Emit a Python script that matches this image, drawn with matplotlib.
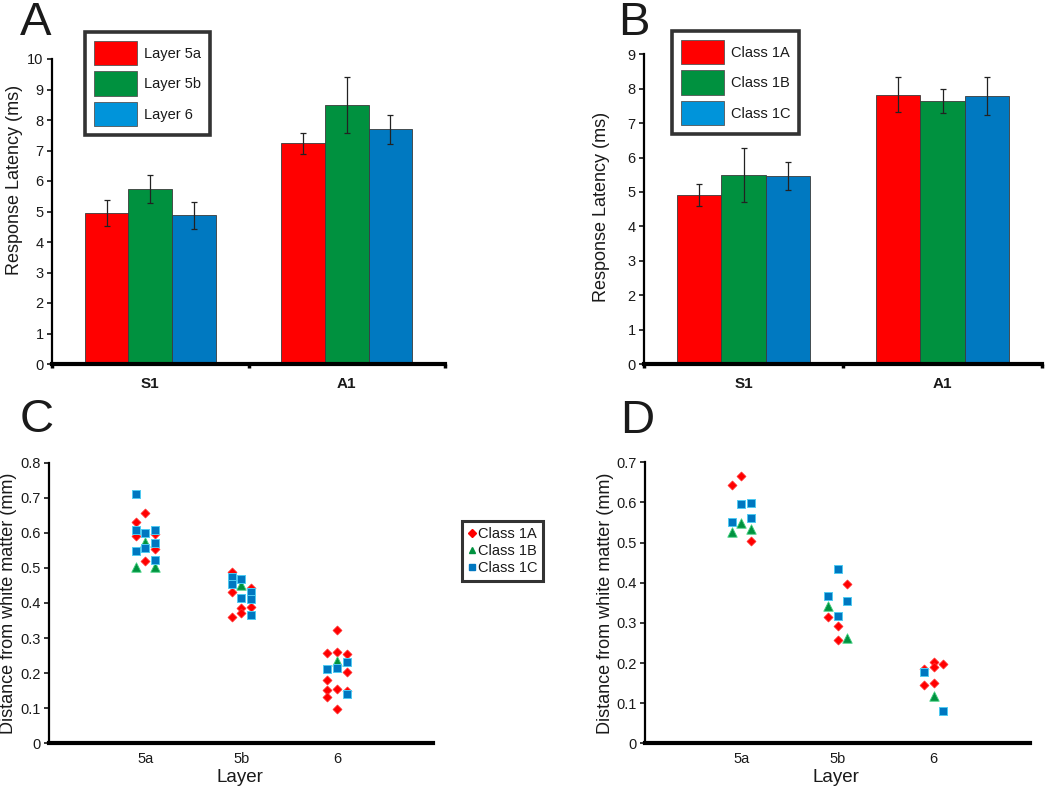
import matplotlib
matplotlib.use('Agg')
import matplotlib.pyplot as plt
from matplotlib.patches import Patch
from matplotlib.lines import Line2D

plt.rcParams['font.family'] = ['Liberation Sans', 'DejaVu Sans']

# ---------------- data ----------------
groups = ['S1', 'A1']

A_labels = ['Layer 5a', 'Layer 5b', 'Layer 6']
A_means = [[4.96, 7.23], [5.74, 8.50], [4.87, 7.69]]
A_err = [[0.43, 0.36], [0.45, 0.91], [0.43, 0.48]]

B_labels = ['Class 1A', 'Class 1B', 'Class 1C']
B_means = [[4.92, 7.83], [5.49, 7.65], [5.47, 7.79]]
B_err = [[0.32, 0.51], [0.78, 0.35], [0.40, 0.55]]

layers = ['5a', '5b', '6']
classes = ['Class 1A', 'Class 1B', 'Class 1C']

# Panel C: layer index (1=5a,2=5b,3=6), column slot (-1,0,1), distance (mm)
C_1A_layer = [1, 1, 1, 1, 1, 1, 2, 2, 2, 2, 2, 2, 2, 3, 3, 3, 3, 3, 3, 3, 3, 3, 3, 3]
C_1A_col = [-1, -1, 0, 0, 1, 1, -1, -1, -1, 0, 0, 1, 1, -1, -1, -1, -1, 0, 0, 0, 0, 1, 1, 1]
C_1A_dist = [0.631, 0.591, 0.656, 0.519, 0.598, 0.553,
             0.488, 0.432, 0.361, 0.385, 0.371, 0.444, 0.390,
             0.257, 0.180, 0.152, 0.133, 0.324, 0.260, 0.156, 0.099, 0.254, 0.204, 0.149]
C_1B_layer = [1, 1, 1, 2, 3]
C_1B_col = [-1, 0, 1, 0, 0]
C_1B_dist = [0.503, 0.575, 0.503, 0.452, 0.236]
C_1C_layer = [1, 1, 1, 1, 1, 1, 1, 1, 2, 2, 2, 2, 2, 2, 2, 3, 3, 3, 3]
C_1C_col = [-1, -1, -1, 0, 0, 1, 1, 1, -1, -1, 0, 0, 1, 1, 1, -1, 0, 1, 1]
C_1C_dist = [0.710, 0.608, 0.548, 0.599, 0.556, 0.608, 0.571, 0.524,
             0.475, 0.455, 0.467, 0.414, 0.432, 0.410, 0.365,
             0.213, 0.215, 0.233, 0.140]

# Panel D
D_1A_layer = [1, 1, 1, 2, 2, 2, 2, 3, 3, 3, 3, 3, 3]
D_1A_col = [-1, 0, 1, -1, 0, 0, 1, -1, -1, 0, 0, 0, 1]
D_1A_dist = [0.644, 0.667, 0.505, 0.315, 0.293, 0.257, 0.396,
             0.185, 0.145, 0.202, 0.190, 0.151, 0.198]
D_1B_layer = [1, 1, 1, 2, 2, 3]
D_1B_col = [-1, 0, 1, -1, 1, 0]
D_1B_dist = [0.527, 0.550, 0.534, 0.343, 0.262, 0.117]
D_1C_layer = [1, 1, 1, 1, 2, 2, 2, 2, 3, 3]
D_1C_col = [-1, 0, 1, 1, -1, 0, 0, 1, -1, 1]
D_1C_dist = [0.551, 0.596, 0.599, 0.562, 0.367, 0.433, 0.317, 0.355, 0.177, 0.080]

# ---------------- style ----------------
W, H = 1050, 789
fig = plt.figure(figsize=(W / 100, H / 100), dpi=100)

bar_colors = ['#FF0000', '#00913F', '#0079C1']
leg_colors = ['#FF0000', '#00913F', '#0094DA']
TXT = '#1a1a1a'


def add_axes_px(l, t, r, b):
    return fig.add_axes([l / W, 1 - b / H, (r - l) / W, (b - t) / H])


def style_axes(ax):
    for s in ['top', 'right']:
        ax.spines[s].set_visible(False)
    ax.spines['left'].set_linewidth(1.6)
    ax.spines['bottom'].set_linewidth(3.0)
    ax.tick_params(axis='y', direction='out', length=3.6, width=1.1, pad=2.5,
                   labelsize=10.5, labelcolor=TXT)


def bar_panel(ax, means, errs, labels, ymax, leg_xy):
    n = len(means)
    bw = 0.222
    for i in range(n):
        xs = [g + (i - (n - 1) / 2) * bw for g in range(len(groups))]
        ax.bar(xs, means[i], width=bw, color=bar_colors[i], edgecolor='#3a3a3a',
               linewidth=0.6, zorder=2)
        ax.errorbar(xs, means[i], yerr=errs[i], fmt='none', ecolor='#222222',
                    elinewidth=0.9, capsize=2.5, capthick=0.9, zorder=3)
    ax.set_xlim(-0.5, len(groups) - 0.5)
    ax.set_ylim(0, ymax)
    ax.set_yticks(range(0, ymax + 1))
    ax.set_xticks(range(len(groups)))
    ax.set_xticklabels(groups, fontweight='bold', fontsize=11, color=TXT)
    ax.set_xticks([g - 0.5 for g in range(len(groups) + 1)], minor=True)
    ax.tick_params(axis='x', which='major', length=0, pad=9)
    ax.tick_params(axis='x', which='minor', length=3, width=2.5, direction='out')
    style_axes(ax)
    handles = [Patch(facecolor=leg_colors[i], edgecolor='#555555', linewidth=0.6)
               for i in range(n)]
    leg = fig.legend(handles, labels, loc='upper left',
                     bbox_to_anchor=(leg_xy[0] / W, 1 - leg_xy[1] / H),
                     bbox_transform=fig.transFigure, borderaxespad=0,
                     fontsize=10.5, handlelength=2.95, handleheight=2.2,
                     handletextpad=0.5, labelspacing=0.42, borderpad=0.6,
                     fancybox=False, frameon=True)
    leg.get_frame().set_edgecolor('black')
    leg.get_frame().set_linewidth(2.6)
    for t in leg.get_texts():
        t.set_color(TXT)


marker_specs = [
    dict(marker='D', s=4.6 ** 2, c='#FF0000', edgecolors='#FF3030', linewidths=0.5),
    dict(marker='^', s=6.8 ** 2, c='#00923F', edgecolors='#40D080', linewidths=0.6),
    dict(marker='s', s=6.2 ** 2, c='#0077C0', edgecolors='#4FCBF2', linewidths=0.7),
]


def scatter_panel(ax, data, ymax):
    for k, (lay, col, dist) in enumerate(data):
        xs = [l + 0.1 * c for l, c in zip(lay, col)]
        ax.scatter(xs, dist, zorder=3 + k, **marker_specs[k])
    ax.set_xlim(0, 4)
    ax.set_ylim(0, ymax)
    nt = int(round(ymax * 10))
    ticks = [i / 10 for i in range(nt + 1)]
    ax.set_yticks(ticks)
    ax.set_yticklabels(['0'] + ['%.1f' % t for t in ticks[1:]])
    ax.set_xticks([1, 2, 3])
    ax.set_xticklabels(layers, fontsize=10.5, color=TXT)
    ax.tick_params(axis='x', length=0, pad=6)
    style_axes(ax)
    for sp in ['left', 'bottom']:
        ax.spines[sp].set_clip_on(False)


# ---------------- Panel A ----------------
axA = add_axes_px(52, 59, 445, 364)
bar_panel(axA, A_means, A_err, A_labels, 10, (85, 32))
fig.text(15 / W, 1 - 180 / H, 'Response Latency (ms)', rotation=90, ha='center',
         va='center', fontsize=13, color=TXT)

# ---------------- Panel B ----------------
axB = add_axes_px(644, 54.3, 1042, 364)
bar_panel(axB, B_means, B_err, B_labels, 9, (672, 31))
fig.text(601 / W, 1 - 207 / H, 'Response Latency (ms)', rotation=90, ha='center',
         va='center', fontsize=13, color=TXT)

# ---------------- Panel C ----------------
axC = add_axes_px(49.3, 462.7, 433, 743.3)
scatter_panel(axC, [(C_1A_layer, C_1A_col, C_1A_dist),
                    (C_1B_layer, C_1B_col, C_1B_dist),
                    (C_1C_layer, C_1C_col, C_1C_dist)], 0.8)
fig.text(9 / W, 1 - 603 / H, 'Distance from white matter (mm)', rotation=90,
         ha='center', va='center', fontsize=13, color=TXT)
fig.text(240 / W, 1 - 778 / H, 'Layer', ha='center', va='center', fontsize=13.5,
         color=TXT)

leg_handles = [Line2D([], [], linestyle='none', marker='D', markersize=3.6,
                      color='#FF0000'),
               Line2D([], [], linestyle='none', marker='^', markersize=5,
                      color='#00923F'),
               Line2D([], [], linestyle='none', marker='s', markersize=4.2,
                      color='#0077C0')]
legC = fig.legend(leg_handles, classes, loc='upper left',
                  bbox_to_anchor=(462 / W, 1 - 521 / H), bbox_transform=fig.transFigure,
                  borderaxespad=0, fontsize=10.5, handlelength=0.6, handletextpad=0.1,
                  labelspacing=0.22, borderpad=0.4, fancybox=False, frameon=True)
legC.get_frame().set_edgecolor('black')
legC.get_frame().set_linewidth(2.2)
for t in legC.get_texts():
    t.set_color(TXT)

# ---------------- Panel D ----------------
axD = add_axes_px(645, 462.3, 1030, 743.3)
scatter_panel(axD, [(D_1A_layer, D_1A_col, D_1A_dist),
                    (D_1B_layer, D_1B_col, D_1B_dist),
                    (D_1C_layer, D_1C_col, D_1C_dist)], 0.7)
fig.text(605 / W, 1 - 603 / H, 'Distance from white matter (mm)', rotation=90,
         ha='center', va='center', fontsize=13, color=TXT)
fig.text(836 / W, 1 - 778 / H, 'Layer', ha='center', va='center', fontsize=13.5,
         color=TXT)

# ---------------- panel letters ----------------
for letter, x, y in [('A', 36, 35), ('B', 634, 35), ('C', 37, 432), ('D', 637, 433)]:
    fig.text(x / W, 1 - y / H, letter, ha='center', va='baseline', fontsize=34,
             color=TXT)

fig.savefig('out.png', dpi=100, facecolor='white')
